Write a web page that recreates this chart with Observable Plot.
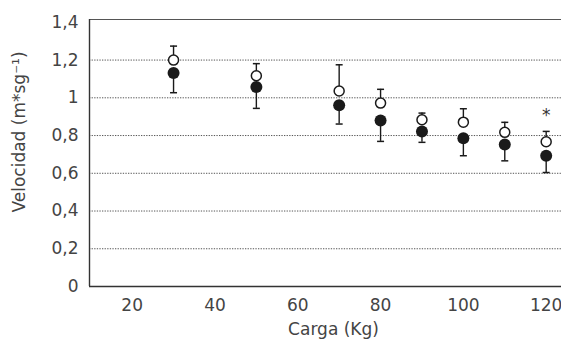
<!DOCTYPE html>
<html>
<head>
<meta charset="utf-8">
<script src="https://cdn.jsdelivr.net/npm/d3@7"></script>
<script src="https://cdn.jsdelivr.net/npm/@observablehq/plot@0.6"></script>
<style>
  html, body { margin: 0; padding: 0; background: #fff; }
  #chart svg { display: block; }
</style>
</head>
<body>
<div id="chart"></div>
<script>
// Load (Kg)
const loads = [30, 50, 70, 80, 90, 100, 110, 120];
// Open circles: mean and upper error
const openMean  = [1.200, 1.117, 1.036, 0.972, 0.884, 0.871, 0.817, 0.767];
const openUpper = [1.274, 1.181, 1.175, 1.045, 0.919, 0.942, 0.870, 0.822];
// Filled circles: mean and lower error
const filledMean  = [1.131, 1.057, 0.961, 0.880, 0.822, 0.786, 0.753, 0.693];
const filledLower = [1.027, 0.944, 0.861, 0.769, 0.764, 0.693, 0.666, 0.604];
// Significance marker
const sigLoads = [120];
const sigValues = [0.93];
// Axes
const xTicks = [20, 40, 60, 80, 100, 120];
const yTicks = [0, 0.2, 0.4, 0.6, 0.8, 1, 1.2, 1.4];
const gridValues = [0.2, 0.4, 0.6, 0.8, 1, 1.2];
const xDomain = [9.7, 123.7];
const yDomain = [0, 1.415];
const xTitle = "Carga (Kg)";
const yTitle = "Velocidad (m*sg\u207B\u00B9)";

const rows = loads.map((load, i) => ({
  load,
  openMean: openMean[i], openUpper: openUpper[i],
  filledMean: filledMean[i], filledLower: filledLower[i]
}));
const sig = sigLoads.map((load, i) => ({load, value: sigValues[i]}));

const capSymbol = {
  draw(context, size) {
    const w = Math.sqrt(size / Math.PI);
    context.moveTo(-w, 0);
    context.lineTo(w, 0);
  }
};

const ink = "#1a1a1a";
const textColor = "#444";
const chart = Plot.plot({
  width: 561,
  height: 345,
  marginLeft: 89,
  marginRight: 0,
  marginTop: 19,
  marginBottom: 59,
  x: {domain: xDomain},
  y: {domain: yDomain},
  style: {fontFamily: "'DejaVu Sans', sans-serif", fontSize: "17px", color: textColor, background: "#fff"},
  marks: [
    Plot.ruleY(gridValues, {stroke: "#555", strokeWidth: 1, strokeDasharray: "1.3,1.3"}),
    Plot.ruleY([yDomain[0]], {stroke: "#333", strokeWidth: 1.4}),
    Plot.ruleY([yDomain[1]], {stroke: "#555", strokeWidth: 1.2}),
    Plot.ruleX([xDomain[0]], {stroke: "#333", strokeWidth: 1.4}),
    // error bars
    Plot.ruleX(rows, {x: "load", y1: "openMean", y2: "openUpper", stroke: ink, strokeWidth: 1.4}),
    Plot.ruleX(rows, {x: "load", y1: "filledMean", y2: "filledLower", stroke: ink, strokeWidth: 1.4}),
    Plot.dot(rows, {x: "load", y: "openUpper", symbol: capSymbol, r: 3.5, stroke: ink, strokeWidth: 1.5}),
    Plot.dot(rows, {x: "load", y: "filledLower", symbol: capSymbol, r: 3.5, stroke: ink, strokeWidth: 1.5}),
    // points
    Plot.dot(rows, {x: "load", y: "filledMean", r: 6, fill: ink, stroke: "none"}),
    Plot.dot(rows, {x: "load", y: "openMean", r: 5, fill: "#fff", stroke: ink, strokeWidth: 1.5}),
    Plot.text(sig, {x: "load", y: "value", text: () => "*", fontSize: 17, fill: "#333", dy: 5}),
    Plot.axisY(yTicks, {tickSize: 0, tickPadding: 11, label: null,
      tickFormat: d => String(+d.toFixed(1)).replace(".", ",")}),
    Plot.axisX(xTicks, {tickSize: 0, tickPadding: 12, label: null}),
    Plot.text([xTitle], {frameAnchor: "bottom", text: d => d, dy: 48, lineAnchor: "bottom", fontSize: 17, fill: textColor, dx: 8}),
    Plot.text([yTitle], {frameAnchor: "left", text: d => d, rotate: -90, dx: -77, dy: -21, lineAnchor: "top", textAnchor: "middle", fontSize: 17, fill: textColor})
  ]
});
document.getElementById("chart").appendChild(chart);
</script>
</body>
</html>
